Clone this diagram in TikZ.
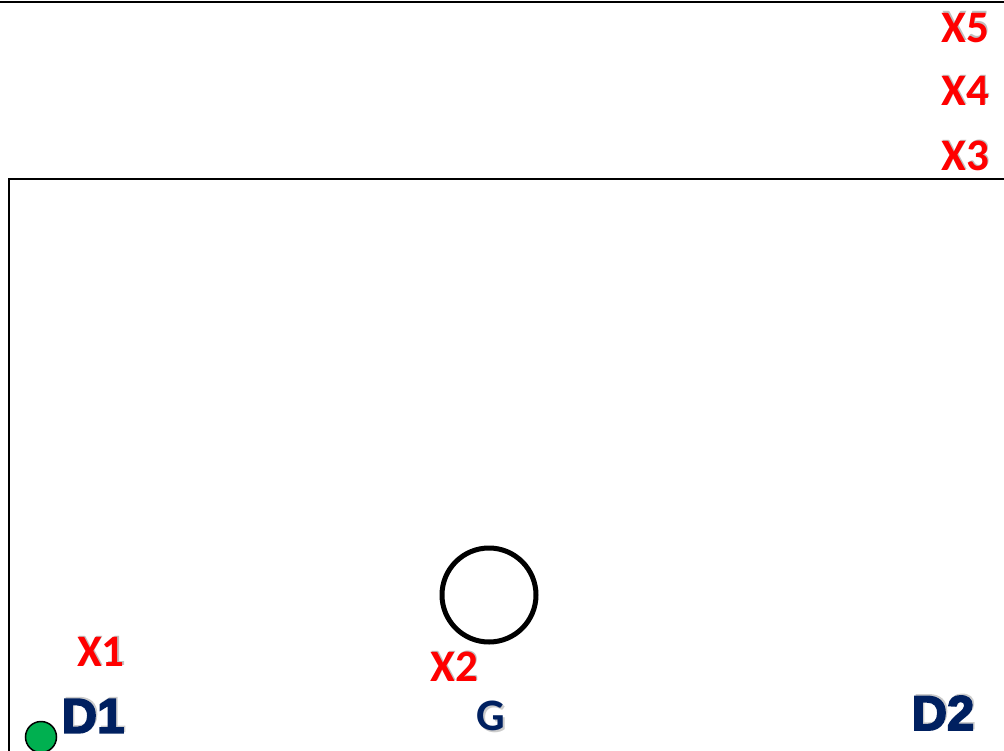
\documentclass[tikz,border=0pt]{standalone}
\usepackage{fontspec}
\newfontfamily\labelfont{Carlito}
\newfontfamily\heavyfont{Liberation Sans}[UprightFont=* Bold, FakeBold=3.5]
\definecolor{xred}{HTML}{FF0000}
\definecolor{navy}{HTML}{002060}
\definecolor{dotgreen}{HTML}{00B050}
\newcommand{\xlabel}[3]{%
  \node[xtxt, text=black!25] at ([xshift=1.5pt,yshift=1.5pt]#2) {#3};
  \node[xtxt] (#1) at (#2) {#3};}
\newcommand{\dlabel}[3]{%
  \node[dtxt, text=black!20] at ([xshift=1.5pt,yshift=1.5pt]#2) {#3};
  \node[dtxt] (#1) at (#2) {#3};}
\begin{document}
\begin{tikzpicture}[x=1pt, y=-1pt,
  xtxt/.style={inner sep=0pt, text=xred, font=\labelfont\bfseries\fontsize{45}{45}\selectfont},
  dtxt/.style={inner sep=0pt, text=navy, font=\heavyfont\fontsize{49}{49}\selectfont},
  gtxt/.style={inner sep=0pt, text=navy, font=\labelfont\bfseries\fontsize{45}{45}\selectfont},
  frame/.style={draw=black, line width=2.6pt},
  hoop/.style={draw=black, line width=5pt},
  ball/.style={circle, draw=black, line width=1.5pt, fill=dotgreen, minimum size=31pt, inner sep=0pt}]
\useasboundingbox (0,0) rectangle (1004,750);
% outer edge at the top and the inner field border
\coordinate (tl) at (0,2);
\coordinate (tr) at (1004,2);
\draw[frame] (tl) -- (tr);
\coordinate (fb) at (9,751);
\coordinate (fc) at (9,179);
\coordinate (fr) at (1005,179);
\draw[frame] (fb) -- (fc) -- (fr);
% ring
\node[hoop, circle, minimum size=94pt, inner sep=0pt] (ring) at (489,595) {};
% ball
\node[ball] (ball) at (41,737) {};
% red position labels
\xlabel{x5}{965,28}{X5}
\xlabel{x4}{965,91}{X4}
\xlabel{x3}{965,156}{X3}
\xlabel{x1}{101,652}{X1}
\xlabel{x2}{454,667}{X2}
% blue labels
\dlabel{d1}{93,716}{D1}
\dlabel{d2}{943,713}{D2}
\node[gtxt, text=black!20] at (492.5,717.5) {G};
\node[gtxt] (g) at (491,716) {G};
\end{tikzpicture}
\end{document}
